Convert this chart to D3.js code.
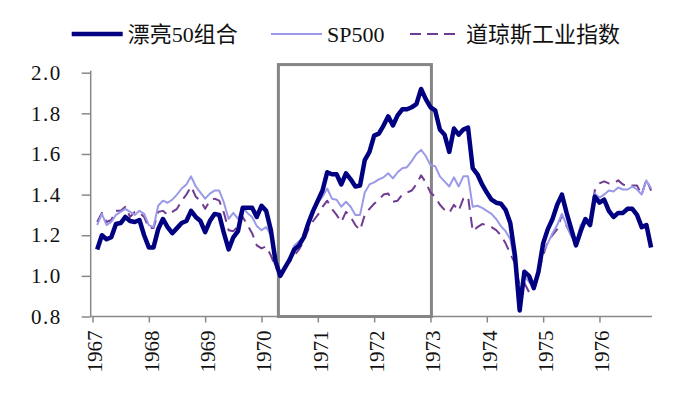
<!DOCTYPE html>
<html><head><meta charset="utf-8">
<script src="https://cdn.jsdelivr.net/npm/d3@7"></script>
<style>
body{margin:0;background:#fff;}
svg{display:block;}
svg text{font-family:"Liberation Serif","Times New Roman","DejaVu Serif","Noto Sans CJK SC",serif !important;fill:#111;}
</style></head>
<body><svg id="c" width="689" height="393"></svg>
<script>
// monthly data, Feb 1967 .. Dec 1976 (index 1..119, index 0 = Jan 1967)
const startIndex = 1;
const years = [1967,1968,1969,1970,1971,1972,1973,1974,1975,1976];
const yTicks = [0.8,1.0,1.2,1.4,1.6,1.8,2.0];
const seriesNames = ["漂亮50组合","SP500","道琼斯工业指数"];
const nifty50 = [1.13,1.20,1.18,1.19,1.255,1.26,1.29,1.27,1.265,1.275,1.20,1.14,1.14,1.23,1.28,1.24,1.21,1.235,1.26,1.27,
1.32,1.29,1.27,1.215,1.27,1.305,1.30,1.21,1.13,1.19,1.22,1.335,1.335,1.335,1.29,1.345,1.32,1.225,1.07,1.00,
1.04,1.08,1.13,1.15,1.19,1.26,1.32,1.37,1.42,1.51,1.50,1.50,1.45,1.505,1.475,1.44,1.445,1.57,1.61,1.69,
1.70,1.74,1.785,1.74,1.79,1.82,1.82,1.83,1.845,1.92,1.87,1.83,1.815,1.72,1.695,1.61,1.725,1.695,1.72,1.73,
1.53,1.50,1.45,1.41,1.375,1.36,1.355,1.325,1.26,1.10,0.83,1.02,1.00,0.94,1.02,1.16,1.23,1.28,1.35,1.40,
1.31,1.23,1.15,1.22,1.28,1.25,1.39,1.36,1.375,1.32,1.29,1.31,1.31,1.33,1.33,1.30,1.24,1.25,1.14];
const sp500 = [1.25,1.305,1.25,1.265,1.30,1.315,1.33,1.315,1.30,1.32,1.305,1.25,1.24,1.345,1.37,1.36,1.375,1.40,1.43,1.45,
1.49,1.44,1.41,1.38,1.405,1.42,1.42,1.36,1.28,1.31,1.28,1.335,1.31,1.29,1.245,1.225,1.24,1.20,1.07,1.00,
1.045,1.09,1.15,1.17,1.19,1.27,1.32,1.36,1.39,1.43,1.38,1.375,1.34,1.365,1.34,1.30,1.30,1.41,1.45,1.46,
1.475,1.485,1.505,1.48,1.51,1.53,1.535,1.565,1.60,1.62,1.59,1.545,1.54,1.49,1.465,1.44,1.485,1.44,1.49,1.49,
1.34,1.345,1.335,1.32,1.305,1.28,1.245,1.22,1.18,1.06,0.92,1.00,0.97,0.95,1.03,1.12,1.16,1.21,1.25,1.305,
1.25,1.195,1.16,1.25,1.28,1.25,1.405,1.385,1.40,1.42,1.415,1.435,1.425,1.425,1.44,1.425,1.40,1.47,1.43];
const dow = [1.265,1.31,1.265,1.275,1.32,1.32,1.34,1.29,1.315,1.31,1.29,1.235,1.235,1.315,1.32,1.30,1.315,1.33,1.37,1.40,
1.44,1.39,1.37,1.33,1.37,1.38,1.37,1.31,1.225,1.22,1.245,1.29,1.25,1.21,1.15,1.135,1.145,1.10,1.045,1.00,
1.04,1.07,1.10,1.13,1.17,1.23,1.27,1.30,1.34,1.37,1.33,1.30,1.265,1.315,1.29,1.25,1.225,1.30,1.33,1.355,
1.375,1.40,1.405,1.365,1.37,1.40,1.41,1.42,1.45,1.495,1.46,1.41,1.39,1.35,1.325,1.31,1.35,1.32,1.38,1.39,
1.22,1.24,1.255,1.25,1.24,1.225,1.20,1.16,1.11,1.06,0.95,0.965,0.92,0.93,1.02,1.10,1.17,1.20,1.23,1.30,
1.245,1.20,1.16,1.235,1.26,1.26,1.42,1.455,1.465,1.455,1.455,1.47,1.45,1.44,1.445,1.445,1.40,1.475,1.42];
// highlighted period (month index) and its top value
const boxPeriod = [39.6, 72.2];
const boxTop = 2.04;

const colors = ["#000080","#9a9ae8","#703c93"];
const widths = [4.5,2,2];
const dashes = [null,null,"11,7"];

const svg = d3.select("#c");
const plotLeft = 92.5, plotRight = 651.1, plotTop = 72.7, plotBottom = 316.5, axisX = 90.7;
const x = d3.scaleLinear().domain([0,119]).range([plotLeft, plotRight]);
const y = d3.scaleLinear().domain([0.8,2.0]).range([plotBottom, plotTop]);

// y axis
const ya = svg.append("g").attr("transform",`translate(${axisX},0)`)
  .call(d3.axisLeft(y).tickValues(yTicks).tickFormat(d3.format(".1f")).tickSize(9).tickSizeOuter(0).tickPadding(20));
ya.attr("font-size",null).attr("font-family",null);
ya.select(".domain").attr("stroke","#888").attr("stroke-width",1.5).attr("d",`M0,${plotBottom}V${plotTop-2}`);
ya.selectAll(".tick line").attr("stroke","#888").attr("stroke-width",1.5);
ya.selectAll("text").style("font-size","21px").attr("fill","#111").style("letter-spacing","1.5px");

// x axis
const xa = svg.append("g").attr("transform",`translate(0,${plotBottom})`)
  .call(d3.axisBottom(x).tickValues(years.map((d,i)=>i*12)).tickFormat((d,i)=>years[i]).tickSize(6).tickSizeOuter(0));
xa.attr("font-size",null).attr("font-family",null);
xa.select(".domain").attr("stroke","#888").attr("stroke-width",1.5).attr("d",`M${axisX},0H${plotRight+1}`);
xa.selectAll(".tick line").attr("stroke","#888").attr("stroke-width",1.5);
xa.selectAll("text").style("font-size","21px").attr("fill","#111")
  .attr("transform","rotate(-90)").attr("text-anchor","end").attr("x",-14).attr("y",2).attr("dy","0.35em");

// highlight box
svg.append("rect")
  .attr("x",x(boxPeriod[0])).attr("y",y(boxTop))
  .attr("width",x(boxPeriod[1])-x(boxPeriod[0])).attr("height",y(0.8)-y(boxTop))
  .attr("fill","none").attr("stroke","#858585").attr("stroke-width",3);

// lines
const line = d3.line().x((d,i)=>x(i+startIndex)).y(d=>y(d));
const all = [nifty50, sp500, dow];
[2,1,0].forEach(k=>{
  svg.append("path").datum(all[k]).attr("d",line).attr("fill","none")
    .attr("stroke",colors[k]).attr("stroke-width",widths[k]).attr("stroke-linejoin","round")
    .attr("stroke-dasharray",dashes[k]);
});

// legend
const legX = [71.7, 271, 410];
const lg = svg.append("g");
seriesNames.forEach((n,k)=>{
  lg.append("line").attr("x1",legX[k]).attr("x2",legX[k]+51).attr("y1",34).attr("y2",34)
    .attr("stroke",colors[k]).attr("stroke-width",k===0?4.5:2).attr("stroke-dasharray",k===2?"11,6":null);
  lg.append("text").attr("x",legX[k]+56).attr("y",34).attr("dy","0.35em").style("font-size","22px").text(n);
});
</script></body></html>
